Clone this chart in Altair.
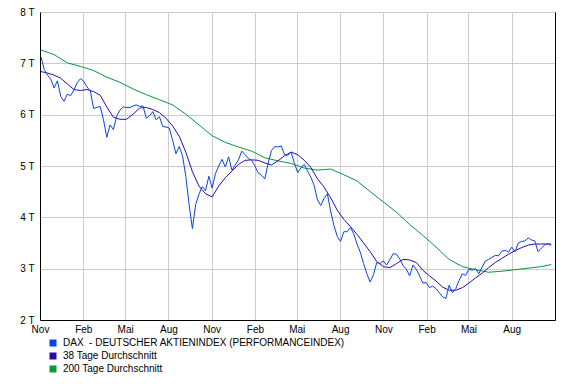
import altair as alt
import pandas as pd

# ---------------- data ----------------
week_start = "2000-11-03"          # weekly closes, Fridays

dax_values = [
    7130, 6880, 6770, 6690, 6520, 6660, 6360, 6260, 6400, 6370,
    6480, 6620, 6700, 6650, 6540, 6460, 6120, 6140, 6160, 5900,
    5560, 5800, 5710, 5970, 6090, 6150, 6140, 6140, 6170, 6190,
    6160, 6170, 5930, 5980, 6060, 5900, 5960, 5770, 5760, 5740,
    5500, 5240, 5380, 5200, 4800, 4250, 3780, 4250, 4450, 4600,
    4520, 4800, 4570, 4850, 5000, 5130, 4980, 5180, 4920, 5020,
    5120, 5290, 5220, 5150, 5110, 5000, 4860, 4820, 4750, 5050,
    5300, 5380, 5370, 5390, 5220, 5210, 5270, 5050, 4870, 4970,
    5030, 4900, 4780, 4620, 4340, 4230, 4370, 4460, 4120, 3840,
    3630, 3530, 3720, 3720, 3800, 3680, 3480, 3320, 3100, 2900,
    2740, 2880, 3120, 3100, 3150, 3070, 3180, 3290, 3280, 3190,
    3060, 2990, 2860, 3070, 2990, 2860, 2720, 2730, 2630, 2660,
    2610, 2530, 2450, 2420, 2680, 2530, 2610, 2770, 2900, 2870,
    2990, 2970, 3000, 2900, 3030, 3150, 3180, 3220, 3260, 3250,
    3340, 3360, 3320, 3420, 3330, 3500, 3530, 3540, 3600, 3560,
    3540, 3330, 3400, 3460, 3490, 3450,
]

# 38-day average, read every second week (+ last week)
ma38_values = [
    6840, 6810, 6770, 6710, 6600, 6490, 6470, 6490, 6450, 6380,
    6150, 5950, 5910, 5910, 6010, 6130, 6140, 6100, 6040, 5930,
    5780, 5580, 5270, 4890, 4610, 4460, 4400, 4610, 4770, 4900,
    5030, 5110, 5120, 5110, 5060, 5020, 5100, 5200, 5270, 5220,
    5110, 4970, 4750, 4590, 4380, 4140, 3960, 3820, 3670, 3500,
    3330, 3140, 3040, 3020, 3100, 3180, 3170, 3120, 2970, 2860,
    2760, 2640, 2580, 2580, 2630, 2720, 2820, 2910, 3020, 3120,
    3200, 3280, 3350, 3410, 3460, 3480, 3480, 3480, 3480,
]

# 200-day average, read every fourth week (+ last week)
ma200_values = [
    7260, 7170, 7010, 6940, 6860, 6730, 6630, 6500, 6390, 6290,
    6190, 6010, 5800, 5590, 5460, 5370, 5290, 5160, 5100, 5050,
    4960, 4920, 4940, 4830, 4710, 4500, 4300, 4100, 3860, 3650,
    3420, 3180, 3040, 2980, 2930, 2950, 2980, 3010, 3040, 3080,
]

series_names = [
    "DAX \u00a0- DEUTSCHER AKTIENINDEX (PERFORMANCEINDEX)",
    "38 Tage Durchschnitt",
    "200 Tage Durchschnitt",
]
series_colors = ["#0b44dc", "#2c0aa6", "#05993a"]

month_names = ["Jan", "Feb", "Mär", "Apr", "Mai", "Jun",
               "Jul", "Aug", "Sep", "Okt", "Nov", "Dez"]
x_tick_months = [(2000, 11), (2001, 2), (2001, 5), (2001, 8), (2001, 11),
                 (2002, 2), (2002, 5), (2002, 8), (2002, 11),
                 (2003, 2), (2003, 5), (2003, 8)]
x_domain = [(2000, 11), (2003, 11)]
y_ticks = [2000, 3000, 4000, 5000, 6000, 7000, 8000]

# ---------------- table ----------------
weeks = [d.strftime("%Y-%m-%d")
         for d in pd.date_range(week_start, periods=len(dax_values), freq="7D")]
ma38_dates = weeks[::2] + [weeks[-1]]
ma200_dates = weeks[::4] + [weeks[-1]]

df = pd.concat([
    pd.DataFrame({"date": ma200_dates, "value": ma200_values, "series": series_names[2]}),
    pd.DataFrame({"date": ma38_dates, "value": ma38_values, "series": series_names[1]}),
    pd.DataFrame({"date": weeks, "value": dax_values, "series": series_names[0]}),
], ignore_index=True)

FONT = "Liberation Sans"

x_enc = alt.X(
    "date:T",
    scale=alt.Scale(type="utc", domain=[alt.DateTime(year=y, month=m, date=1, utc=True)
                                        for y, m in x_domain]),
    axis=alt.Axis(
        title=None,
        values=[alt.DateTime(year=y, month=m, date=1, utc=True) for y, m in x_tick_months],
        labelExpr=f"{month_names}[utcmonth(datum.value)]",
        ticks=False, tickSize=0, labelPadding=4, labelFlush=False, labelOverlap=False,
        domainColor="black", grid=True, gridColor="#cccccc",
    ),
)
y_scale = alt.Scale(domain=[2000, 8000], nice=False, zero=False)
color_scale = alt.Scale(domain=series_names, range=series_colors)
legend_spec = alt.Legend(
    title=None, orient="none", legendX=8, legendY=326, direction="vertical",
    symbolType="square", symbolSize=49, symbolStrokeWidth=0, symbolOpacity=1,
    labelFont=FONT, labelFontSize=10, labelColor="black",
    labelLimit=400, labelOffset=5, rowPadding=3, padding=0,
)

# invisible filled squares: they give the legend its filled square symbols
legend_layer = alt.Chart(df).mark_square(size=49, filled=True, opacity=0).encode(
    x=x_enc,
    y=alt.Y("value:Q", scale=y_scale,
            axis=alt.Axis(title=None, orient="right", labels=False, ticks=False,
                          tickSize=0, grid=False, domainColor="black")),
    color=alt.Color("series:N", scale=color_scale, legend=legend_spec),
)

lines = alt.Chart(df).mark_line(strokeWidth=1).encode(
    x=x_enc,
    y=alt.Y("value:Q", scale=y_scale,
            axis=alt.Axis(title=None, values=y_ticks,
                          labelExpr="datum.value / 1000 + ' T'",
                          ticks=False, tickSize=0, labelPadding=6,
                          domainColor="black", grid=True, gridColor="#cccccc")),
    color=alt.Color("series:N", scale=color_scale, legend=legend_spec),
    detail="series:N",
)

chart = alt.layer(legend_layer, lines).resolve_axis(y="independent").properties(
    width=515, height=308,
    autosize=alt.AutoSizeParams(type="none"),
    padding={"left": 32, "top": 4, "right": 7, "bottom": 56},
).configure_axis(
    labelFont=FONT, labelFontSize=10, labelColor="black", domainWidth=1, gridWidth=1,
).configure_view(stroke=None).configure(background="white")

chart.save("out.html", embed_options={"renderer": "svg", "actions": False})
